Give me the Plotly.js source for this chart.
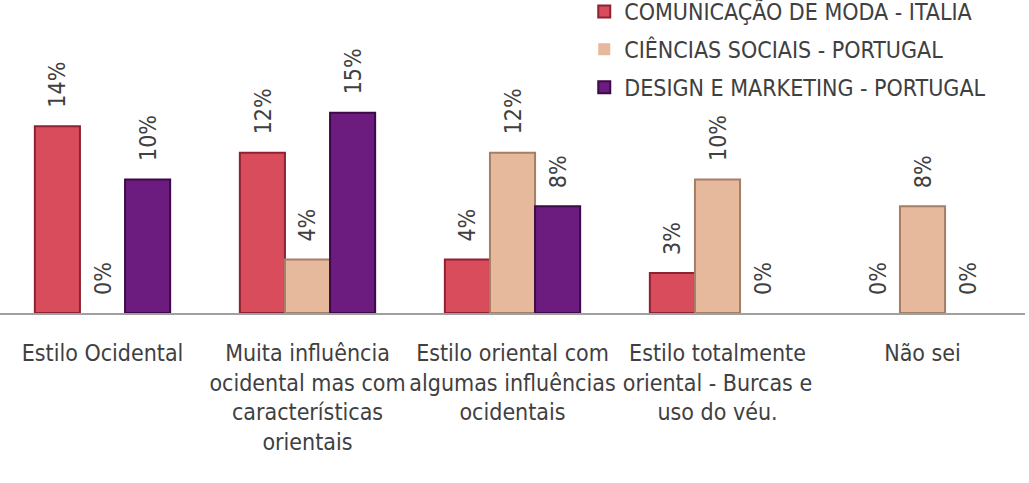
<!DOCTYPE html>
<html>
<head>
<meta charset="utf-8">
<script src="https://cdn.plot.ly/plotly-3.0.1.min.js"></script>
<style>body{margin:0;background:#fff}#chart{width:1029px;height:483px}</style>
</head>
<body>
<div id="chart"></div>
<script>
var categories = ['Estilo Ocidental',
  'Muita influência<br>ocidental mas com<br>características<br>orientais',
  'Estilo oriental com<br>algumas influências<br>ocidentais',
  'Estilo totalmente<br>oriental - Burcas e<br>uso do véu.',
  'Não sei'];
var seriesNames = ['COMUNICAÇÃO DE MODA - ITALIA', 'CIÊNCIAS SOCIAIS - PORTUGAL', 'DESIGN E MARKETING - PORTUGAL'];
var moda = [14, 12, 4, 3, 0];
var sociais = [0, 4, 12, 10, 8];
var design = [10, 15, 8, 0, 0];

var allValues = [moda, sociais, design];
var fills = ['#d84c5c', '#e6b89c', '#6c1c7e'];
var edges = ['#8e2232', '#a57e66', '#3c0a48'];
var FONT = '"DejaVu Sans Condensed", "Liberation Sans Narrow", sans-serif';

var data = allValues.map(function (vals, i) {
  return {
    type: 'bar',
    name: seriesNames[i],
    legendgroup: 'g' + i,
    x: categories,
    y: vals,
    marker: {color: fills[i], line: {color: edges[i], width: vals.map(function (v) { return v ? 2 : 0; })}},
    hoverinfo: 'none'
  };
});

var annotations = [];
allValues.forEach(function (vals, i) {
  vals.forEach(function (v, j) {
    annotations.push({
      x: categories[j], y: v, xref: 'x', yref: 'y',
      text: v + '%', showarrow: false, textangle: -90,
      xshift: (i - 1) * 45, yanchor: 'bottom', yshift: 16,
      font: {family: FONT, size: 23, color: '#404040'}
    });
  });
});

var layout = {
  width: 1029, height: 483,
  margin: {l: 0, r: 4, t: 0, b: 170, autoexpand: false},
  paper_bgcolor: '#fff', plot_bgcolor: '#fff',
  barmode: 'group', bargap: 0.34, bargroupgap: 0,
  showlegend: true,
  legend: {x: 0.570, xanchor: 'left', y: 1.032, yanchor: 'top',
    font: {family: FONT, size: 23, color: '#404040'}, tracegroupgap: 5,
    itemwidth: 30, bgcolor: 'rgba(0,0,0,0)'},
  xaxis: {showgrid: false, zeroline: false, showline: true, linecolor: '#a0a0a0', linewidth: 2,
    ticks: '', tickangle: 0, ticklabelstandoff: 18,
    tickfont: {family: FONT, size: 23, color: '#404040'}, fixedrange: true},
  yaxis: {range: [0, 23.45], visible: false, showgrid: false, zeroline: false, fixedrange: true},
  annotations: annotations
};

Plotly.newPlot('chart', data, layout, {displayModeBar: false, staticPlot: true});
</script>
</body>
</html>
